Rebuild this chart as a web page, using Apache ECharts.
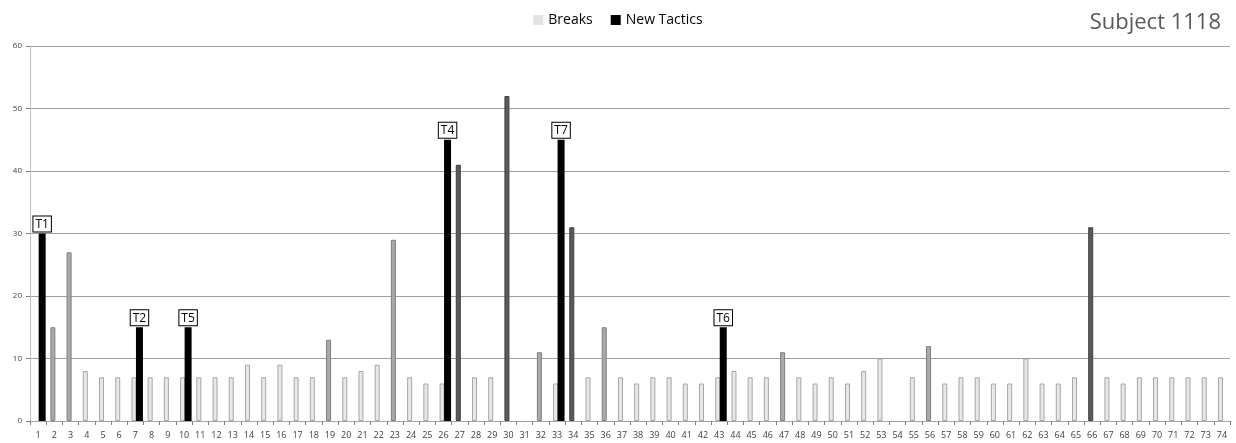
<!DOCTYPE html>
<html>
<head>
<meta charset="utf-8">
<script src="https://cdn.jsdelivr.net/npm/echarts@6/dist/echarts.min.js"></script>
<style>html,body{margin:0;padding:0;background:#fff}#c{width:1236px;height:443px}</style>
</head>
<body>
<div id="c"></div>
<script>
const categories = Array.from({length: 74}, (_, i) => String(i + 1));
const breaks = [0,15,27,8,7,7,7,7,7,7,7,7,7,9,7,9,7,7,13,7,8,9,29,7,6,6,41,7,7,52,0,11,6,31,7,15,7,6,7,7,6,6,7,8,7,7,11,7,6,7,6,8,10,0,7,12,6,7,7,6,6,10,6,6,7,31,7,6,7,7,7,7,7,7];
const tacticCats = ['1','7','10','26','33','43'];
const tacticValues = [30,15,15,45,45,15];
const tacticNames = ['T1','T2','T5','T4','T7','T6'];
const yTicks = [0,10,20,30,40,50,60];

const tacticsData = categories.map(c => {
  const k = tacticCats.indexOf(c);
  return k >= 0 ? tacticValues[k] : null;
});

function breakColor(v) {
  if (v > 30) return {c: '#5a5a5a', b: '#3f3f3f'};
  if (v > 10) return {c: '#a9a9a9', b: '#7f7f7f'};
  return {c: '#e8e8e8', b: '#a6a6a6'};
}

const chart = echarts.init(document.getElementById('c'));
chart.setOption({
  animation: false,
  textStyle: {fontFamily: 'Open Sans'},
  title: {
    text: 'Subject 1118', right: 10, top: 7,
    textStyle: {fontSize: 22, fontWeight: 'normal', color: '#595959', fontFamily: 'Open Sans'}
  },
  legend: {
    top: 8, left: 'center', itemWidth: 10, itemHeight: 10, itemGap: 18, icon: 'rect',
    textStyle: {fontSize: 14, color: '#000', fontFamily: 'Open Sans'},
    data: [
      {name: 'Breaks', itemStyle: {color: '#e3e3e3', borderWidth: 0}},
      {name: 'New Tactics', itemStyle: {color: '#000', borderWidth: 0}}
    ]
  },
  grid: {left: 30, right: 6, top: 46, bottom: 22, containLabel: false},
  xAxis: {
    type: 'category', data: categories, boundaryGap: true,
    axisLine: {lineStyle: {color: '#a6a6a6'}},
    axisTick: {show: true, alignWithLabel: false, length: 4, lineStyle: {color: '#808080'}},
    axisLabel: {interval: 0, fontSize: 9, color: '#404040', margin: 10}
  },
  yAxis: {
    type: 'value', min: 0, max: 60, interval: 10,
    axisLine: {show: true, lineStyle: {color: '#bfbfbf'}},
    axisTick: {show: true, length: 4, lineStyle: {color: '#808080'}},
    axisLabel: {fontSize: 8, color: '#404040', margin: 8,
      formatter: v => yTicks.includes(v) ? String(v) : ''},
    splitLine: {lineStyle: {color: '#a0a0a0', width: 1}}
  },
  series: [
    {
      name: 'spacer', type: 'bar', barWidth: 4, barGap: '-10%',
      data: categories.map(() => null), silent: true, itemStyle: {color: 'transparent'}
    },
    {
      name: 'Breaks', type: 'bar', barWidth: 5, barGap: '-10%',
      data: breaks.map(v => {
        const col = breakColor(v);
        return {value: v, itemStyle: {color: col.c, borderColor: col.b, borderWidth: v > 0 ? 1 : 0}};
      }),
      itemStyle: {color: '#e3e3e3'}
    },
    {
      name: 'New Tactics', type: 'bar', barWidth: 7,
      data: tacticsData,
      itemStyle: {color: '#000'},
      label: {
        show: true, position: 'top', distance: 2,
        formatter: p => {
          const k = tacticCats.indexOf(p.name);
          return k >= 0 ? tacticNames[k] : '';
        },
        fontSize: 12, color: '#000', fontFamily: 'Open Sans',
        backgroundColor: '#fff', borderColor: '#000', borderWidth: 1,
        padding: [2, 2, 1, 2]
      }
    }
  ]
});
</script>
</body>
</html>
